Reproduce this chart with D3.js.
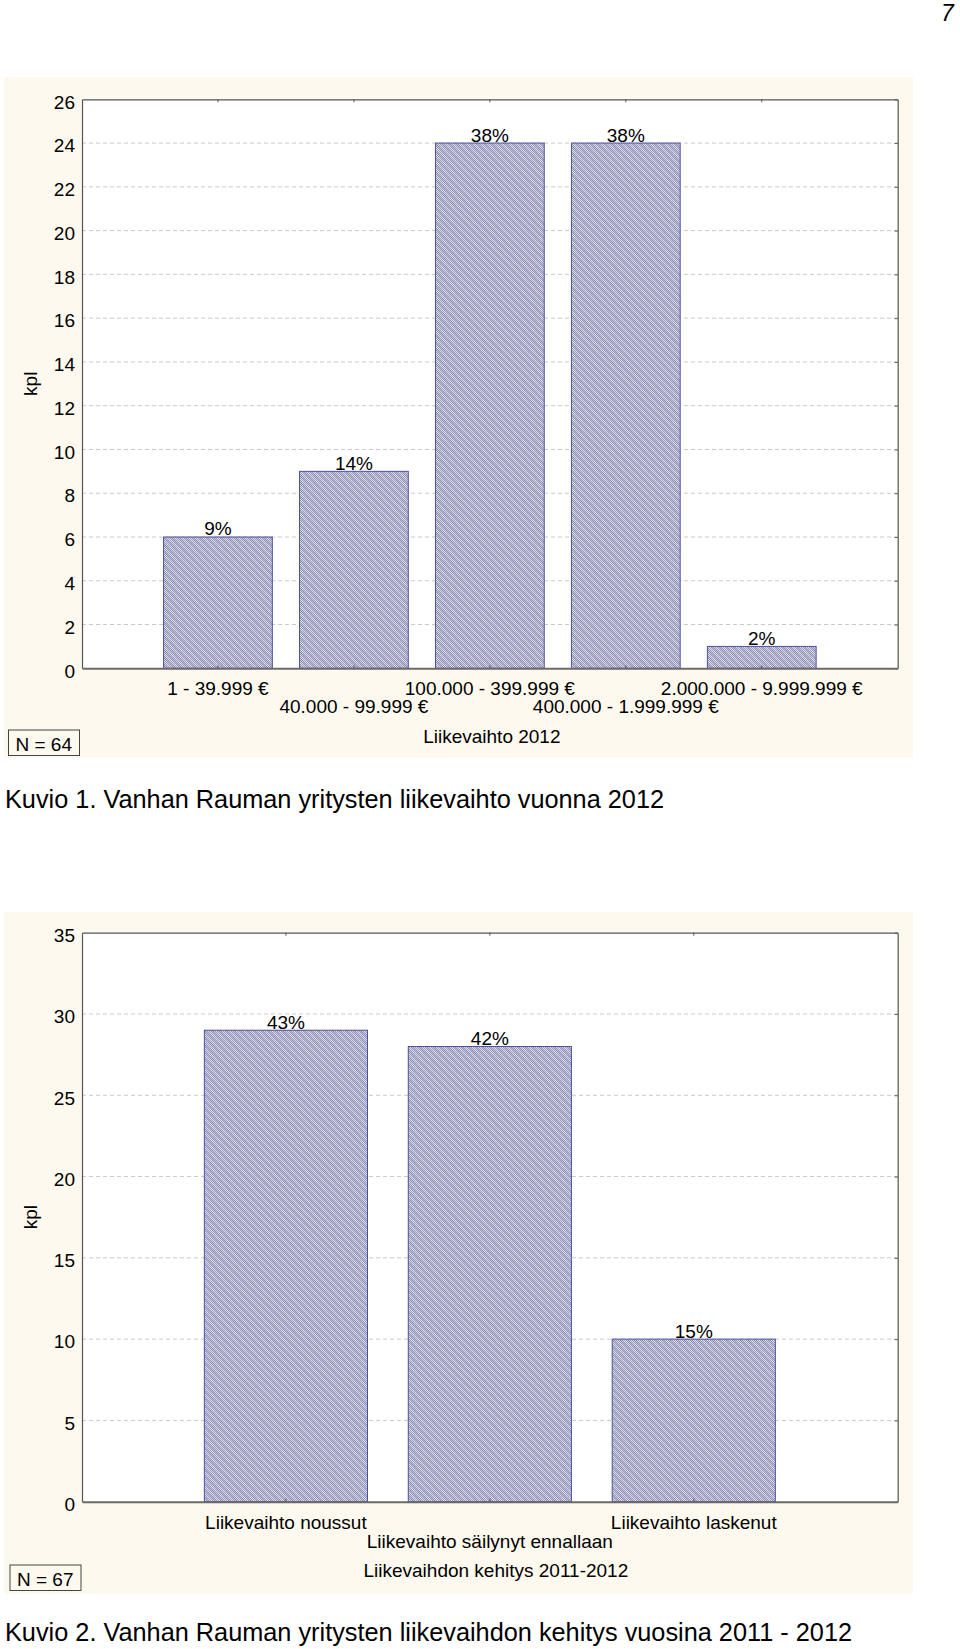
<!DOCTYPE html>
<html>
<head>
<meta charset="utf-8">
<script src="https://cdn.jsdelivr.net/npm/d3@7"></script>
<style>
  html, body { margin: 0; padding: 0; background: #ffffff; }
  svg { display: block; font-family: "Liberation Sans", Arial, sans-serif; }
</style>
</head>
<body>
<svg id="chart" width="960" height="1649"></svg>
<script>
// ---------- data ----------
const categories1 = ["1 - 39.999 €", "40.000 - 99.999 €", "100.000 - 399.999 €", "400.000 - 1.999.999 €", "2.000.000 - 9.999.999 €"];
const values1 = [6, 9, 24, 24, 1];
const percentLabels1 = ["9%", "14%", "38%", "38%", "2%"];
const yTicks1 = [0, 2, 4, 6, 8, 10, 12, 14, 16, 18, 20, 22, 24, 26];
const xTitle1 = "Liikevaihto 2012";
const nLabel1 = "N = 64";
const caption1 = "Kuvio 1. Vanhan Rauman yritysten liikevaihto vuonna 2012";

const categories2 = ["Liikevaihto noussut", "Liikevaihto säilynyt ennallaan", "Liikevaihto laskenut"];
const values2 = [29, 28, 10];
const percentLabels2 = ["43%", "42%", "15%"];
const yTicks2 = [0, 5, 10, 15, 20, 25, 30, 35];
const xTitle2 = "Liikevaihdon kehitys 2011-2012";
const nLabel2 = "N = 67";
const caption2 = "Kuvio 2. Vanhan Rauman yritysten liikevaihdon kehitys vuosina 2011 - 2012";

const yLabel = "kpl";
const pageNumber = "7";

// ---------- drawing ----------
const svg = d3.select("#chart");
const defs = svg.append("defs");

// fine checker texture
const chk = defs.append("pattern").attr("id", "chk")
  .attr("patternUnits", "userSpaceOnUse").attr("width", 2).attr("height", 2);
chk.append("rect").attr("width", 2).attr("height", 2).attr("fill", "#e2e2ec");
chk.append("rect").attr("width", 1).attr("height", 1).attr("fill", "#9799bd");
chk.append("rect").attr("x", 1).attr("y", 1).attr("width", 1).attr("height", 1).attr("fill", "#9799bd");

// diagonal stripes
const hatch = defs.append("pattern").attr("id", "hatch")
  .attr("patternUnits", "userSpaceOnUse").attr("width", 5).attr("height", 5)
  .attr("patternTransform", "rotate(-45)");
hatch.append("rect").attr("width", 2.2).attr("height", 5).attr("fill", "#8f91b4").attr("opacity", 0.55);

const FONT = 19;

function drawChart(cfg) {
  const g = svg.append("g");
  const {panel, plot} = cfg;

  g.append("rect").attr("x", panel.x).attr("y", panel.y).attr("width", panel.w).attr("height", panel.h)
    .attr("fill", "#fdf9ee");

  g.append("rect").attr("x", plot.left).attr("y", plot.top)
    .attr("width", plot.right - plot.left).attr("height", plot.bottom - plot.top)
    .attr("fill", "#ffffff");

  const y = d3.scaleLinear().domain([0, cfg.yMax]).range([plot.bottom, plot.top]);
  const x = d3.scaleBand().domain(cfg.categories).range([plot.left, plot.right])
    .paddingInner(0.2).paddingOuter(0.6);

  // grid
  g.append("g").selectAll("line").data(cfg.yTicks.filter(t => t > 0 && t < cfg.yMax)).join("line")
    .attr("x1", plot.left).attr("x2", plot.right)
    .attr("y1", d => y(d)).attr("y2", d => y(d))
    .attr("stroke", "#c9c9c9").attr("stroke-width", 1).attr("stroke-dasharray", "4,3");

  // bars
  const data = cfg.categories.map((c, i) => ({c, v: cfg.values[i], p: cfg.percents[i]}));
  const bars = g.append("g");
  bars.selectAll("rect.base").data(data).join("rect").attr("class", "base")
    .attr("x", d => x(d.c)).attr("y", d => y(d.v))
    .attr("width", x.bandwidth()).attr("height", d => y(0) - y(d.v))
    .attr("fill", "url(#chk)");
  bars.selectAll("rect.hatch").data(data).join("rect").attr("class", "hatch")
    .attr("x", d => x(d.c)).attr("y", d => y(d.v))
    .attr("width", x.bandwidth()).attr("height", d => y(0) - y(d.v))
    .attr("fill", "url(#hatch)")
    .attr("stroke", "#4f4fa0").attr("stroke-width", 1);

  // percent labels
  g.append("g").selectAll("text").data(data).join("text")
    .attr("x", d => x(d.c) + x.bandwidth() / 2).attr("y", d => y(d.v) - 1.5)
    .attr("text-anchor", "middle").attr("font-size", FONT).attr("fill", "#000")
    .text(d => d.p);

  // y axis (left) using d3 axis
  const yAxis = d3.axisLeft(y).tickValues(cfg.yTicks).tickSize(0).tickPadding(7).tickFormat(d3.format("d"));
  const ya = g.append("g").attr("transform", `translate(${plot.left},0)`).call(yAxis);
  ya.select(".domain").attr("stroke", "#555").attr("stroke-width", 1.2);
  ya.selectAll("text").attr("font-size", FONT).attr("font-family", "Liberation Sans, Arial, sans-serif")
    .attr("fill", "#000").attr("dy", "0.46em");

  // right axis with inward ticks
  const ra = g.append("g").attr("transform", `translate(${plot.right},0)`)
    .call(d3.axisLeft(y).tickValues(cfg.yTicks).tickSize(3).tickSizeOuter(0).tickFormat(""));
  ra.select(".domain").attr("stroke", "#555").attr("stroke-width", 1.2);
  ra.selectAll(".tick line").attr("stroke", "#555");

  // top axis with inward ticks
  const ta = g.append("g").attr("transform", `translate(0,${plot.top})`)
    .call(d3.axisBottom(x).tickSize(3).tickSizeOuter(0).tickFormat(""));
  ta.select(".domain").attr("stroke", "#555").attr("stroke-width", 1.2);
  ta.selectAll(".tick line").attr("stroke", "#555");

  // bottom axis with inward ticks
  const ba = g.append("g").attr("transform", `translate(0,${plot.bottom})`)
    .call(d3.axisTop(x).tickSize(3).tickSizeOuter(0).tickFormat(""));
  ba.select(".domain").attr("stroke", "#6a6a6a").attr("stroke-width", 2);
  ba.selectAll(".tick line").attr("stroke", "#555");

  // x category labels, staggered
  g.append("g").selectAll("text").data(cfg.categories).join("text")
    .attr("x", d => x(d) + x.bandwidth() / 2)
    .attr("y", (d, i) => plot.bottom + (i % 2 === 0 ? cfg.row1 : cfg.row2))
    .attr("text-anchor", "middle").attr("font-size", FONT).attr("fill", "#000")
    .text(d => d);

  // x title
  g.append("text").attr("x", (plot.left + plot.right) / 2 + cfg.titleShift).attr("y", plot.bottom + 75)
    .attr("text-anchor", "middle").attr("font-size", FONT).attr("fill", "#000").text(cfg.xTitle);

  // y label
  g.append("text").attr("transform", `translate(37,${(plot.top + plot.bottom) / 2}) rotate(-90)`)
    .attr("text-anchor", "middle").attr("font-size", FONT).attr("fill", "#000").text(yLabel);

  // N box
  g.append("rect").attr("x", cfg.nBox.x).attr("y", cfg.nBox.y).attr("width", 71).attr("height", 25.5)
    .attr("fill", "none").attr("stroke", "#444").attr("stroke-width", 1);
  g.append("text").attr("x", cfg.nBox.x + 7).attr("y", cfg.nBox.y + 20.5)
    .attr("font-size", FONT).attr("fill", "#000").text(cfg.nLabel);

  // caption
  g.append("text").attr("x", 5).attr("y", cfg.captionY)
    .attr("font-size", 25.3).attr("fill", "#000").text(cfg.caption);
}

drawChart({
  panel: {x: 4, y: 77, w: 909, h: 681},
  plot: {left: 82, top: 99.3, right: 897.7, bottom: 668.3},
  categories: categories1, values: values1, percents: percentLabels1,
  yTicks: yTicks1, yMax: 26, row1: 27, row2: 45, titleShift: 2,
  xTitle: xTitle1, nLabel: nLabel1, nBox: {x: 8.5, y: 730},
  caption: caption1, captionY: 808
});

drawChart({
  panel: {x: 4, y: 912, w: 909, h: 682},
  plot: {left: 82, top: 932.7, right: 897.7, bottom: 1501.7},
  categories: categories2, values: values2, percents: percentLabels2,
  yTicks: yTicks2, yMax: 35, row1: 27.5, row2: 46.5, titleShift: 6,
  xTitle: xTitle2, nLabel: nLabel2, nBox: {x: 10, y: 1565},
  caption: caption2, captionY: 1641
});

// page number
svg.append("text").attr("x", 941).attr("y", 21).attr("font-size", 23)
  .attr("font-style", "italic").attr("fill", "#000").text(pageNumber);
</script>
</body>
</html>
